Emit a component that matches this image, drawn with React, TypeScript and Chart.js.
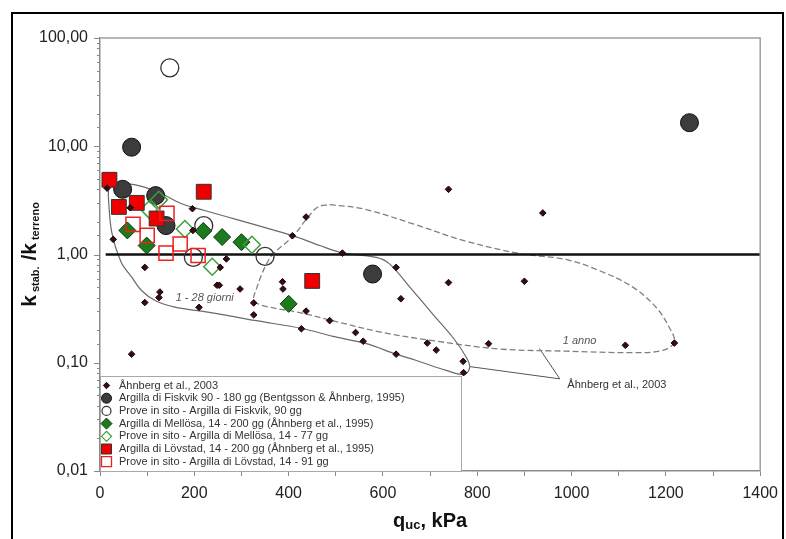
import React, { useEffect, useRef } from 'react';
import { Chart, registerables } from 'chart.js';

Chart.register(...registerables);

// q_uc [kPa], k_stab / k_terreno
const ahnberg2003: [number, number][] = [
  [15, 4.1], [28, 1.38], [64, 2.7], [67, 0.12], [95, 0.76], [95, 0.36], [125, 0.4], [127, 0.45],
  [196, 2.65], [197, 1.67], [210, 0.325], [248, 0.52], [253, 0.52], [255, 0.76], [268, 0.91],
  [297, 0.48], [326, 0.357], [326, 0.277], [387, 0.56], [388, 0.48], [408, 1.49], [437, 2.22],
  [437, 0.3], [427, 0.206], [487, 0.245], [514, 1.03], [542, 0.19], [558, 0.158], [628, 0.76],
  [638, 0.39], [628, 0.12], [694, 0.152], [713, 0.131], [739, 4.0], [739, 0.55], [770, 0.103],
  [771, 0.081], [824, 0.15], [900, 0.566], [939, 2.42], [1114, 0.145], [1218, 0.152],
];
const fiskvik: [number, number][] = [[67, 9.8], [48, 4.0], [118, 3.5], [140, 1.85], [578, 0.66], [1250, 16.5]];
const fiskvikInSitu: [number, number][] = [[148, 53], [220, 1.85], [198, 0.94], [350, 0.96]];
const mellosa: [number, number][] = [[58, 1.67], [99, 1.21], [219, 1.65], [259, 1.45], [300, 1.3], [400, 0.35]];
const mellosaInSitu: [number, number][] = [[104, 2.6], [125, 3.2], [180, 1.72], [322, 1.23], [238, 0.77]];
const lovstad: [number, number][] = [[20, 4.9], [40, 2.75], [78, 3.0], [120, 2.15], [220, 3.8], [450, 0.57]];
const lovstadInSitu: [number, number][] = [[70, 1.9], [100, 1.5], [140, 1.03], [142, 2.4], [170, 1.25], [208, 0.98]];

// envelopes (Åhnberg et al., 2003)
const envelope1to28: [number, number][] = [
  [18, 4.3], [60, 4.5], [116, 3.9], [173, 2.94], [222, 2.55], [411, 1.48], [466, 1.21], [517, 1.03],
  [586, 0.94], [614, 0.82], [657, 0.5], [706, 0.28], [748, 0.172], [777, 0.112], [784, 0.091],
  [773, 0.078], [734, 0.085], [671, 0.105], [628, 0.12], [565, 0.15], [494, 0.175], [431, 0.206],
  [328, 0.246], [272, 0.273], [215, 0.3], [159, 0.326], [117, 0.376], [88, 0.465], [67, 0.62],
  [45, 0.85], [25, 1.6], [18, 3.27], [18, 4.3],
];
const envelope1anno: [number, number][] = [
  [487, 2.89], [558, 2.64], [664, 1.92], [770, 1.35], [890, 1.02], [988, 0.9], [1059, 0.71],
  [1130, 0.5], [1179, 0.326], [1207, 0.213], [1218, 0.155], [1193, 0.13], [1130, 0.124],
  [988, 0.128], [847, 0.134], [706, 0.16], [600, 0.19], [491, 0.246], [424, 0.29], [342, 0.34],
  [326, 0.38], [333, 0.5], [342, 0.64], [352, 0.8], [366, 1.0], [409, 1.47], [441, 2.21],
  [462, 2.75], [487, 2.89],
];
const calloutLine: [number, number][] = [[785, 0.092], [975, 0.071], [932, 0.135]];
const unityLine: [number, number][] = [[12, 1], [1400, 1]];

const xTicks = { min: 0, max: 1400, step: 100, labelEvery: 200 };
const yRange = { min: 0.01, max: 100 };

const legendItems = [
  { label: 'Åhnberg et al., 2003', style: 'diamond', r: 3.2, fill: '#3a0a12', stroke: '#1a0508', lw: 1 },
  { label: 'Argilla di Fiskvik 90 - 180 gg (Bentgsson & Åhnberg, 1995)', style: 'circle', r: 5, fill: '#3c3c3c', stroke: '#111', lw: 1 },
  { label: 'Prove in sito - Argilla di Fiskvik, 90 gg', style: 'circle', r: 4.5, fill: null, stroke: '#333', lw: 1.2 },
  { label: 'Argilla di Mellösa, 14 - 200 gg (Åhnberg et al., 1995)', style: 'diamond', r: 5.5, fill: '#1d7a1d', stroke: '#0b3b0b', lw: 1 },
  { label: 'Prove in sito - Argilla di Mellösa, 14 - 77 gg', style: 'diamond', r: 5, fill: null, stroke: '#3aa03a', lw: 1.2 },
  { label: 'Argilla di Lövstad, 14 - 200 gg (Åhnberg et al., 1995)', style: 'square', r: 5, fill: '#ee0000', stroke: '#333', lw: 1 },
  { label: 'Prove in sito - Argilla di Lövstad, 14 - 91 gg', style: 'square', r: 5, fill: null, stroke: '#ee2020', lw: 1.3 },
];

const FONT = 'Arial, "Liberation Sans", Helvetica, sans-serif';

function drawMarker(ctx: CanvasRenderingContext2D, style: string, x: number, y: number, r: number, fill: string | null, stroke: string, lw: number) {
  ctx.beginPath();
  if (style === 'circle') ctx.arc(x, y, r, 0, Math.PI * 2);
  else if (style === 'diamond') {
    ctx.moveTo(x - r, y); ctx.lineTo(x, y - r); ctx.lineTo(x + r, y); ctx.lineTo(x, y + r); ctx.closePath();
  } else ctx.rect(x - r, y - r, 2 * r, 2 * r);
  if (fill) { ctx.fillStyle = fill; ctx.fill(); }
  ctx.lineWidth = lw; ctx.strokeStyle = stroke; ctx.stroke();
}

function drawRuns(ctx: CanvasRenderingContext2D, runs: { t: string; size: number; dy: number }[], cx: number, cy: number) {
  let total = 0;
  for (const r of runs) { ctx.font = `bold ${r.size}px ${FONT}`; total += ctx.measureText(r.t).width; }
  let x = cx - total / 2;
  ctx.textAlign = 'left';
  ctx.textBaseline = 'alphabetic';
  for (const r of runs) {
    ctx.font = `bold ${r.size}px ${FONT}`;
    ctx.fillText(r.t, x, cy + r.dy);
    x += ctx.measureText(r.t).width;
  }
}

const isDecade = (v: number) => Math.abs(Math.log10(v) - Math.round(Math.log10(v))) < 1e-9;

const decorPlugin = {
  id: 'decor',
  beforeDraw(chart: any) {
    const { ctx, width, height } = chart;
    ctx.save();
    ctx.fillStyle = '#fff';
    ctx.fillRect(0, 0, width, height);
    ctx.restore();
  },
  afterDatasetsDraw(chart: any) {
    const { ctx, scales } = chart;
    const xs = scales.x, ys = scales.y;
    ctx.save();
    ctx.fillStyle = '#555';
    ctx.font = `italic 11px ${FONT}`;
    ctx.textAlign = 'center';
    ctx.textBaseline = 'middle';
    ctx.fillText('1 - 28 giorni', xs.getPixelForValue(222), ys.getPixelForValue(0.4));
    ctx.fillText('1 anno', xs.getPixelForValue(1017), ys.getPixelForValue(0.158));
    ctx.fillStyle = '#333';
    ctx.textAlign = 'left';
    ctx.font = `11px ${FONT}`;
    ctx.fillText('Åhnberg et al., 2003', xs.getPixelForValue(991), ys.getPixelForValue(0.0617));
    ctx.restore();
  },
  afterDraw(chart: any) {
    const { ctx, chartArea, scales } = chart;
    const { left, right, top, bottom } = chartArea;
    const ys = scales.y;
    ctx.save();

    // plot frame (top and right)
    ctx.strokeStyle = '#a0a0a0';
    ctx.lineWidth = 1.5;
    ctx.beginPath();
    ctx.moveTo(left, top); ctx.lineTo(right, top); ctx.lineTo(right, bottom);
    ctx.stroke();

    // y ticks: long at decades, short in between
    ctx.strokeStyle = '#888';
    ctx.lineWidth = 1;
    for (const t of ys.ticks) {
      const y = Math.round(ys.getPixelForValue(t.value)) + 0.5;
      const len = isDecade(t.value) ? 6 : 3;
      ctx.beginPath(); ctx.moveTo(left - len, y); ctx.lineTo(left, y); ctx.stroke();
    }

    // legend box
    const lx = left, lw = 361, lh = 95, ly = bottom - lh;
    ctx.fillStyle = '#fff';
    ctx.fillRect(lx, ly, lw, lh);
    ctx.strokeStyle = '#a8a8a8';
    ctx.lineWidth = 1;
    ctx.strokeRect(lx + 0.5, ly + 0.5, lw, lh);
    ctx.font = `11px ${FONT}`;
    ctx.textBaseline = 'middle';
    ctx.textAlign = 'left';
    legendItems.forEach((it, i) => {
      const y = ly + 9.5 + i * 12.7;
      drawMarker(ctx, it.style, lx + 6.5, y, it.r, it.fill, it.stroke, it.lw);
      ctx.fillStyle = '#333';
      ctx.fillText(it.label, lx + 19, y);
    });

    // axis titles
    ctx.fillStyle = '#111';
    drawRuns(ctx, [
      { t: 'q', size: 20, dy: 0 },
      { t: 'uc', size: 13, dy: 2 },
      { t: ', kPa', size: 20, dy: 0 },
    ], (left + right) / 2, 527);
    ctx.save();
    ctx.translate(36, (top + bottom) / 2);
    ctx.rotate(-Math.PI / 2);
    drawRuns(ctx, [
      { t: 'k', size: 21, dy: 0 },
      { t: ' stab.', size: 11, dy: 3 },
      { t: ' /', size: 21, dy: 0 },
      { t: 'k', size: 21, dy: 0 },
      { t: ' terreno', size: 11, dy: 3 },
    ], 0, 0);
    ctx.restore();

    // outer frame
    ctx.strokeStyle = '#000';
    ctx.lineWidth = 2;
    ctx.strokeRect(12, 13, 771, 540);
    ctx.restore();
  },
};

function pts(a: [number, number][]) {
  return a.map(([x, y]) => ({ x, y }));
}

export default function App() {
  const ref = useRef<HTMLCanvasElement | null>(null);

  useEffect(() => {
    document.body.style.margin = '0';
    const canvas = ref.current;
    if (!canvas) return;
    const markerBase = { showLine: false, borderWidth: 1 };
    const chart = new Chart(canvas, {
      type: 'scatter',
      data: {
        datasets: [
          { label: 'Åhnberg et al., 2003', data: pts(ahnberg2003), ...markerBase, pointStyle: 'rectRot', pointRadius: 3.3, backgroundColor: '#3a0a12', borderColor: '#1a0508', order: 1 },
          { label: 'Prove in sito - Argilla di Lövstad, 14 - 91 gg', data: pts(lovstadInSitu), ...markerBase, pointStyle: 'rect', pointRadius: 10, backgroundColor: 'rgba(255,255,255,0)', borderColor: '#ee2020', borderWidth: 1.5, order: 2 },
          { label: 'Argilla di Lövstad, 14 - 200 gg', data: pts(lovstad), ...markerBase, pointStyle: 'rect', pointRadius: 10.5, backgroundColor: '#ee0000', borderColor: '#333', order: 3 },
          { label: 'Prove in sito - Argilla di Mellösa, 14 - 77 gg', data: pts(mellosaInSitu), ...markerBase, pointStyle: 'rectRot', pointRadius: 8.5, backgroundColor: 'rgba(255,255,255,0)', borderColor: '#3aa03a', borderWidth: 1.5, order: 4 },
          { label: 'Argilla di Mellösa, 14 - 200 gg', data: pts(mellosa), ...markerBase, pointStyle: 'rectRot', pointRadius: 8.5, backgroundColor: '#1d7a1d', borderColor: '#0b3b0b', order: 5 },
          { label: 'Prove in sito - Argilla di Fiskvik, 90 gg', data: pts(fiskvikInSitu), ...markerBase, pointStyle: 'circle', pointRadius: 9, backgroundColor: 'rgba(255,255,255,0)', borderColor: '#333', borderWidth: 1.3, order: 6 },
          { label: 'Argilla di Fiskvik 90 - 180 gg', data: pts(fiskvik), ...markerBase, pointStyle: 'circle', pointRadius: 9, backgroundColor: '#3c3c3c', borderColor: '#111', order: 7 },
          { label: 'unity', data: pts(unityLine), showLine: true, pointRadius: 0, borderColor: '#111', borderWidth: 2.5, order: 8 },
          { label: '1 - 28 giorni', data: pts(envelope1to28), showLine: true, pointRadius: 0, borderColor: '#6a6a6a', borderWidth: 1.2, tension: 0.35, order: 9 },
          { label: '1 anno', data: pts(envelope1anno), showLine: true, pointRadius: 0, borderColor: '#808080', borderWidth: 1.3, borderDash: [6, 3], tension: 0.35, order: 9 },
          { label: 'callout', data: pts(calloutLine), showLine: true, pointRadius: 0, borderColor: '#555', borderWidth: 1, tension: 0, order: 9 },
        ],
      },
      options: {
        responsive: false,
        animation: false,
        devicePixelRatio: 1,
        layout: { padding: { left: 0, right: 25, top: 38, bottom: 0 } },
        plugins: { legend: { display: false }, tooltip: { enabled: false } },
        scales: {
          x: {
            type: 'linear',
            min: xTicks.min,
            max: xTicks.max,
            afterFit: (s: any) => { s.height = 68; },
            border: { color: '#8c8c8c', width: 1.5 },
            grid: { drawOnChartArea: false, drawTicks: true, tickLength: 5, color: '#8c8c8c' },
            ticks: {
              stepSize: xTicks.step,
              autoSkip: false,
              maxRotation: 0,
              padding: 8,
              color: '#222',
              font: { family: FONT, size: 16 },
              callback: (v: any) => (Number(v) % xTicks.labelEvery === 0 ? String(v) : ''),
            },
          },
          y: {
            type: 'logarithmic',
            min: yRange.min,
            max: yRange.max,
            afterFit: (s: any) => { s.width = 100; },
            border: { color: '#8c8c8c', width: 1.5 },
            grid: { drawOnChartArea: false, drawTicks: false },
            ticks: {
              autoSkip: false,
              padding: 12,
              color: '#222',
              font: { family: FONT, size: 16 },
              callback: (v: any) => (isDecade(Number(v)) ? Number(v).toFixed(2).replace('.', ',') : ''),
            },
          },
        },
      },
      plugins: [decorPlugin],
    });
    return () => chart.destroy();
  }, []);

  return (
    <div style={{ width: 786, height: 539 }}>
      <canvas ref={ref} width={786} height={539} style={{ display: 'block' }} />
    </div>
  );
}
